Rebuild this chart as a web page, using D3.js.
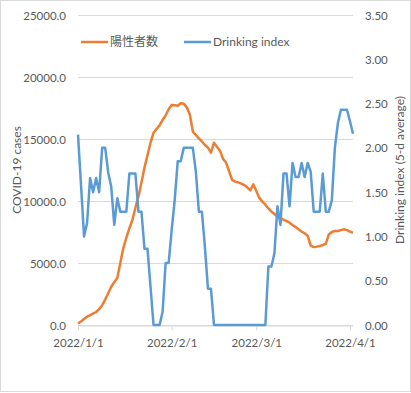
<!DOCTYPE html>
<html><head><meta charset="utf-8">
<script src="https://cdn.jsdelivr.net/npm/d3@7/dist/d3.min.js"></script>
<style>body{margin:0;background:#fff}svg{display:block}text{font-family:Lato,"Noto Sans CJK JP",sans-serif;fill:#595959}</style>
</head><body><svg id="c" width="411" height="393"></svg>
<script>
const startDate = "2022-01-01";
const endDate = "2022-04-02";
const xTickLabels = ["2022/1/1","2022/2/1","2022/3/1","2022/4/1"];
const casesTicks = [0,5000,10000,15000,20000,25000];
const indexTicks = [0,0.5,1,1.5,2,2.5,3,3.5];
const seriesNames = ["陽性者数","Drinking index"];
const cases = [130,280,480,670,790,920,1050,1280,1600,2050,2560,3090,3450,3800,5000,6200,7050,7800,8470,9450,
10350,11500,12700,13700,14700,15500,15800,16100,16550,16900,17400,17740,17720,17690,17880,17850,17550,17000,15600,15320,
15050,14800,14520,14300,13900,14700,14350,14050,13400,13100,12400,11700,11560,11500,11400,11290,11100,10850,11350,10800,
10250,9950,9700,9400,9150,8950,8750,8600,8500,8380,8250,8070,7900,7720,7530,7400,7200,6400,6280,6320,
6370,6450,6550,7300,7500,7580,7580,7650,7720,7650,7530,7440];
const drinking = [2.15,1.58,1.0,1.15,1.66,1.5,1.66,1.5,2.0,2.0,1.72,1.56,1.13,1.43,1.28,1.28,1.28,1.71,1.71,1.71,
1.28,1.28,0.86,0.86,0.43,0,0,0,0.15,0.70,0.70,1.07,1.41,1.85,1.85,2.0,2.0,2.0,2.0,1.73,
1.28,1.28,0.88,0.41,0.41,0,0,0,0,0,0,0,0,0,0,0,0,0,0,0,
0,0,0,0.66,0.66,0.81,1.34,1.13,1.71,1.71,1.34,1.83,1.67,1.67,1.83,1.67,1.83,1.73,1.28,1.28,
1.28,1.71,1.28,1.28,1.41,2.0,2.28,2.43,2.43,2.43,2.3,2.16];

const parse = d3.timeParse("%Y-%m-%d");
const dates = d3.timeDay.range(parse(startDate), d3.timeDay.offset(parse(endDate),1));
const svg = d3.select("#c");
svg.append("rect").attr("x",0.5).attr("y",0.5).attr("width",410).attr("height",391).attr("fill","#fff").attr("stroke","#D9D9D9");

const L=78,R=353,T=15,B=325;
const x = d3.scaleTime().domain([parse(startDate), parse(endDate)]).range([L,R]);
const yL = d3.scaleLinear().domain([0,25000]).range([B,T]);
const yR = d3.scaleLinear().domain([0,3.5]).range([B,T]);

// gridlines
svg.append("g").selectAll("line").data(casesTicks).join("line")
  .attr("x1",L).attr("x2",R).attr("y1",d=>yL(d)+0.5).attr("y2",d=>yL(d)+0.5)
  .attr("stroke","#D9D9D9").attr("stroke-width",1);

// left axis
const axL = svg.append("g").attr("transform",`translate(${L-9},0)`)
  .call(d3.axisLeft(yL).tickValues(casesTicks).tickFormat(d3.format(".1f")).tickSize(0));
axL.select(".domain").remove();
axL.selectAll("text").attr("font-size",11.5).attr("fill","#595959").attr("dy","0.35em");

// right axis
const axR = svg.append("g").attr("transform",`translate(${R+9},0)`)
  .call(d3.axisRight(yR).tickValues(indexTicks).tickFormat(d3.format(".2f")).tickSize(0));
axR.select(".domain").remove();
axR.selectAll("text").attr("font-size",11.5).attr("fill","#595959").attr("dy","0.35em");

// x axis
const xTickDates = xTickLabels.map(s=>d3.timeParse("%Y/%m/%d")(s));
const axX = svg.append("g").attr("transform",`translate(0,${B+0.5})`)
  .call(d3.axisBottom(x).tickValues(xTickDates).tickFormat((d,i)=>xTickLabels[i]).tickSize(5).tickSizeOuter(0));
axX.select(".domain").attr("stroke","#D9D9D9");
axX.selectAll(".tick line").attr("stroke","#D9D9D9");
axX.selectAll("text").attr("font-size",11.5).attr("fill","#595959").attr("dy","0.9em").attr("y",11);

// lines
const lineL = d3.line().x((d,i)=>x(dates[i])).y(d=>yL(d));
const lineR = d3.line().x((d,i)=>x(dates[i])).y(d=>yR(d));
svg.append("path").datum(cases).attr("d",lineL).attr("fill","none").attr("stroke","#ED7D31").attr("stroke-width",2.5).attr("stroke-linejoin","round");
svg.append("path").datum(drinking).attr("d",lineR).attr("fill","none").attr("stroke","#5B9BD5").attr("stroke-width",2.5).attr("stroke-linejoin","round");

// axis titles
svg.append("text").attr("transform","translate(21,170) rotate(-90)").attr("text-anchor","middle")
  .attr("font-size",12).text("COVID-19 cases");
svg.append("text").attr("transform","translate(404,170) rotate(-90)").attr("text-anchor","middle")
  .attr("font-size",12).text("Drinking index (5-d average)");

// legend
const colors=["#ED7D31","#5B9BD5"];
const lx=[81,184];
const lg = svg.append("g");
seriesNames.forEach((n,i)=>{
  lg.append("line").attr("x1",lx[i]).attr("x2",lx[i]+27).attr("y1",42).attr("y2",42).attr("stroke",colors[i]).attr("stroke-width",2.5);
  lg.append("text").attr("x",lx[i]+29).attr("y",42).attr("dy","0.35em").attr("font-size",12).text(n);
});
</script></body></html>
